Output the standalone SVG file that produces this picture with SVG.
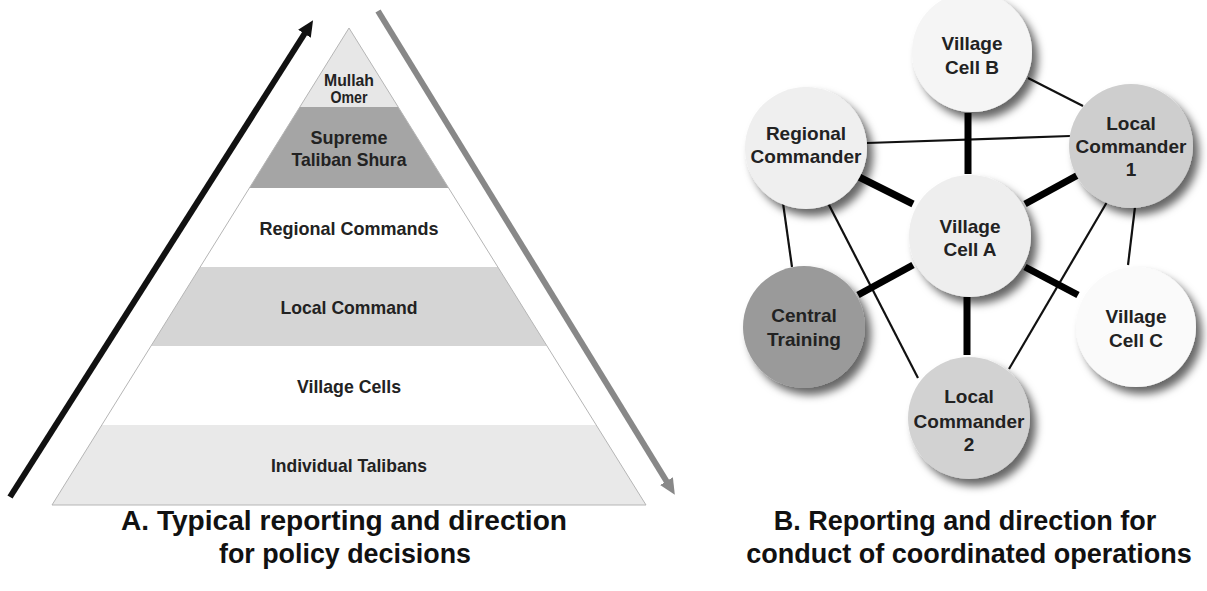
<svg xmlns="http://www.w3.org/2000/svg" width="1207" height="591" viewBox="0 0 1207 591">
<style>
.pt{font-family:"Liberation Sans",Arial,sans-serif;font-weight:bold;fill:#222;text-anchor:middle}
.nt{font-family:"Liberation Sans",Arial,sans-serif;font-weight:bold;font-size:19px;fill:#222;text-anchor:middle}
.cap{font-family:"Liberation Sans",Arial,sans-serif;font-weight:bold;fill:#111;text-anchor:middle}
.thin{stroke:#111;stroke-width:2.2;fill:none}
.thick{stroke:#000;stroke-width:7;fill:none}
.band{stroke:none}
</style>
<defs>
<marker id="hb" markerUnits="userSpaceOnUse" markerWidth="18" markerHeight="18" refX="1" refY="7.5" orient="auto">
<path d="M0,0 L16,7.5 L0,15 z" fill="#111"/>
</marker>
<marker id="hg" markerUnits="userSpaceOnUse" markerWidth="18" markerHeight="18" refX="1" refY="7.5" orient="auto">
<path d="M0,0 L16,7.5 L0,15 z" fill="#888"/>
</marker>
<filter id="sh" x="-30%" y="-30%" width="170%" height="170%">
<feGaussianBlur in="SourceAlpha" stdDeviation="4.5"/>
<feOffset dx="6" dy="7" result="b"/>
<feFlood flood-color="#000" flood-opacity="0.6"/>
<feComposite in2="b" operator="in"/>
<feMerge><feMergeNode/><feMergeNode in="SourceGraphic"/></feMerge>
</filter>
</defs>
<rect width="1207" height="591" fill="#fff"/>

<g id="pyramid">
<polygon class="band" points="349,28 398.2,107 299.8,107" fill="#e7e7e7"/>
<polygon class="band" points="299.8,107 398.2,107 448.6,188 249.4,188" fill="#a5a5a5"/>
<polygon class="band" points="249.4,188 448.6,188 497.8,267 200.2,267" fill="#ffffff"/>
<polygon class="band" points="200.2,267 497.8,267 547,346 151,346" fill="#d5d5d5"/>
<polygon class="band" points="151,346 547,346 596.2,425 101.8,425" fill="#ffffff"/>
<polygon class="band" points="101.8,425 596.2,425 646,505 52,505" fill="#e9e9e9"/>
<polygon points="349,28 646,505 52,505" fill="none" stroke="#b5b5b5" stroke-width="1"/>
<text class="pt" x="349" y="86" font-size="16" textLength="50" lengthAdjust="spacingAndGlyphs">Mullah</text>
<text class="pt" x="349" y="103" font-size="16" textLength="37" lengthAdjust="spacingAndGlyphs">Omer</text>
<text class="pt" x="349" y="144" font-size="19" textLength="77" lengthAdjust="spacingAndGlyphs">Supreme</text>
<text class="pt" x="349" y="166" font-size="19" textLength="115" lengthAdjust="spacingAndGlyphs">Taliban Shura</text>
<text class="pt" x="349" y="235" font-size="19" textLength="179" lengthAdjust="spacingAndGlyphs">Regional Commands</text>
<text class="pt" x="349" y="314" font-size="19" textLength="137" lengthAdjust="spacingAndGlyphs">Local Command</text>
<text class="pt" x="349" y="393" font-size="19" textLength="104" lengthAdjust="spacingAndGlyphs">Village Cells</text>
<text class="pt" x="349" y="472" font-size="19" textLength="156" lengthAdjust="spacingAndGlyphs">Individual Talibans</text>
</g>

<g id="arrows">
<line x1="10" y1="497" x2="305" y2="33" stroke="#111" stroke-width="6" marker-end="url(#hb)"/>
<line x1="378" y1="11" x2="667" y2="482" stroke="#888" stroke-width="6" marker-end="url(#hg)"/>
</g>

<g id="connectors">
<line class="thin" x1="1028" y1="78" x2="1083" y2="106"/>
<line class="thin" x1="867" y1="143" x2="1070" y2="136"/>
<line class="thin" x1="783" y1="203" x2="792" y2="267"/>
<line class="thin" x1="828" y1="203" x2="918" y2="378"/>
<line class="thin" x1="1107" y1="202" x2="1009" y2="369"/>
<line class="thin" x1="1135" y1="207" x2="1128" y2="265"/>
<line class="thick" x1="968" y1="113" x2="968" y2="174"/>
<line class="thick" x1="859" y1="177" x2="913" y2="204"/>
<line class="thick" x1="1078" y1="175" x2="1025" y2="204"/>
<line class="thick" x1="913" y1="265" x2="858" y2="295"/>
<line class="thick" x1="1025" y1="267" x2="1078" y2="295"/>
<line class="thick" x1="967" y1="297" x2="967" y2="355"/>
</g>

<g id="village-cell-b">
<circle cx="972" cy="52" r="60" fill="#f5f5f5" filter="url(#sh)"/>
<text class="nt" x="972" y="50">Village</text>
<text class="nt" x="972" y="74">Cell B</text>
</g>
<g id="regional-commander">
<circle cx="806" cy="148" r="61" fill="#efefef" filter="url(#sh)"/>
<text class="nt" x="806" y="140">Regional</text>
<text class="nt" x="806" y="163">Commander</text>
</g>
<g id="local-commander-1">
<circle cx="1131" cy="146" r="62" fill="#cecece" filter="url(#sh)"/>
<text class="nt" x="1131" y="130">Local</text>
<text class="nt" x="1131" y="153">Commander</text>
<text class="nt" x="1131" y="176">1</text>
</g>
<g id="village-cell-a">
<circle cx="970" cy="236" r="61" fill="#eeeeee" filter="url(#sh)"/>
<text class="nt" x="970" y="233">Village</text>
<text class="nt" x="970" y="256">Cell A</text>
</g>
<g id="central-training">
<circle cx="804" cy="327" r="61" fill="#9a9a9a" filter="url(#sh)"/>
<text class="nt" x="804" y="322">Central</text>
<text class="nt" x="804" y="346">Training</text>
</g>
<g id="village-cell-c">
<circle cx="1136" cy="327" r="60" fill="#fafafa" filter="url(#sh)"/>
<text class="nt" x="1136" y="323">Village</text>
<text class="nt" x="1136" y="347">Cell C</text>
</g>
<g id="local-commander-2">
<circle cx="969" cy="418" r="61" fill="#d2d2d2" filter="url(#sh)"/>
<text class="nt" x="969" y="403">Local</text>
<text class="nt" x="969" y="428">Commander</text>
<text class="nt" x="969" y="451">2</text>
</g>

<g id="captions">
<text class="cap" x="344" y="530" font-size="27" textLength="446" lengthAdjust="spacingAndGlyphs">A. Typical reporting and direction</text>
<text class="cap" x="345" y="563" font-size="27" textLength="252" lengthAdjust="spacingAndGlyphs">for policy decisions</text>
<text class="cap" x="965" y="530" font-size="27">B. Reporting and direction for</text>
<text class="cap" x="969" y="563" font-size="27">conduct of coordinated operations</text>
</g>
</svg>
